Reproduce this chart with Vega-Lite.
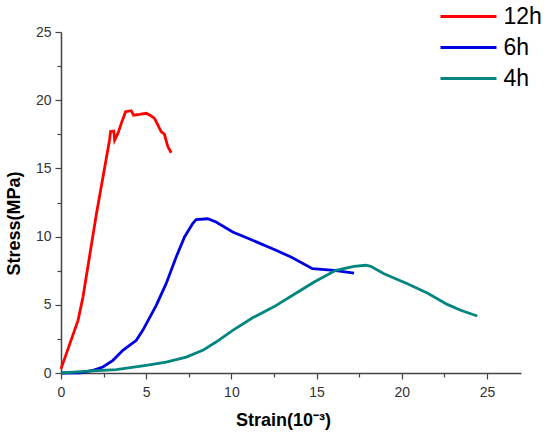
{
  "$schema": "https://vega.github.io/schema/vega-lite/v6.json",
  "width": 460,
  "height": 341,
  "autosize": "none",
  "padding": {"left": 61, "top": 32, "right": 29, "bottom": 61},
  "background": "white",
  "config": {
    "view": {"stroke": null},
    "axis": {
      "grid": false,
      "labelFlush": false,
      "domainColor": "#444",
      "domainWidth": 1.5,
      "tickColor": "#444",
      "tickWidth": 1.2,
      "labelFont": "Liberation Sans",
      "labelFontSize": 14,
      "labelColor": "#333",
      "titleFont": "Liberation Sans",
      "titleFontSize": 18,
      "titleFontWeight": "bold",
      "titleColor": "#000"
    },
    "legend": {
      "labelFont": "Liberation Sans",
      "labelFontSize": 23,
      "labelColor": "#000"
    }
  },
  "data": {
    "values": [
      {"series": "12h", "strain": 0, "stress": 0.3},
      {"series": "12h", "strain": 1.0, "stress": 3.86},
      {"series": "12h", "strain": 1.29, "stress": 5.57},
      {"series": "12h", "strain": 2.07, "stress": 11.6},
      {"series": "12h", "strain": 2.85, "stress": 17.08},
      {"series": "12h", "strain": 2.91, "stress": 17.7},
      {"series": "12h", "strain": 3.1, "stress": 17.74},
      {"series": "12h", "strain": 3.15, "stress": 17.08},
      {"series": "12h", "strain": 3.34, "stress": 17.57},
      {"series": "12h", "strain": 3.54, "stress": 18.3},
      {"series": "12h", "strain": 3.79, "stress": 19.16},
      {"series": "12h", "strain": 4.12, "stress": 19.23},
      {"series": "12h", "strain": 4.26, "stress": 18.9},
      {"series": "12h", "strain": 4.61, "stress": 18.96},
      {"series": "12h", "strain": 5.0, "stress": 19.04},
      {"series": "12h", "strain": 5.3, "stress": 18.84},
      {"series": "12h", "strain": 5.49, "stress": 18.67},
      {"series": "12h", "strain": 5.88, "stress": 17.7},
      {"series": "12h", "strain": 6.07, "stress": 17.5},
      {"series": "12h", "strain": 6.27, "stress": 16.6},
      {"series": "12h", "strain": 6.47, "stress": 16.15},
      {"series": "6h", "strain": 0, "stress": 0},
      {"series": "6h", "strain": 1.1, "stress": 0.02},
      {"series": "6h", "strain": 1.88, "stress": 0.2},
      {"series": "6h", "strain": 2.46, "stress": 0.44},
      {"series": "6h", "strain": 3.05, "stress": 0.93},
      {"series": "6h", "strain": 3.63, "stress": 1.66},
      {"series": "6h", "strain": 4.42, "stress": 2.4},
      {"series": "6h", "strain": 4.8, "stress": 3.13},
      {"series": "6h", "strain": 5.59, "stress": 4.96},
      {"series": "6h", "strain": 6.17, "stress": 6.55},
      {"series": "6h", "strain": 6.76, "stress": 8.5},
      {"series": "6h", "strain": 7.25, "stress": 9.97},
      {"series": "6h", "strain": 7.73, "stress": 10.95},
      {"series": "6h", "strain": 7.93, "stress": 11.24},
      {"series": "6h", "strain": 8.61, "stress": 11.31},
      {"series": "6h", "strain": 9.1, "stress": 11.07},
      {"series": "6h", "strain": 10.08, "stress": 10.34},
      {"series": "6h", "strain": 11.25, "stress": 9.73},
      {"series": "6h", "strain": 12.52, "stress": 9.05},
      {"series": "6h", "strain": 13.5, "stress": 8.5},
      {"series": "6h", "strain": 14.76, "stress": 7.65},
      {"series": "6h", "strain": 16.03, "stress": 7.53},
      {"series": "6h", "strain": 17.2, "stress": 7.33},
      {"series": "4h", "strain": 0, "stress": 0},
      {"series": "4h", "strain": 1.88, "stress": 0.15},
      {"series": "4h", "strain": 3.24, "stress": 0.24},
      {"series": "4h", "strain": 5.0, "stress": 0.56},
      {"series": "4h", "strain": 6.17, "stress": 0.8},
      {"series": "4h", "strain": 7.35, "stress": 1.17},
      {"series": "4h", "strain": 8.32, "stress": 1.66},
      {"series": "4h", "strain": 9.1, "stress": 2.27},
      {"series": "4h", "strain": 10.08, "stress": 3.13},
      {"series": "4h", "strain": 11.25, "stress": 4.05},
      {"series": "4h", "strain": 12.52, "stress": 4.87},
      {"series": "4h", "strain": 13.69, "stress": 5.77},
      {"series": "4h", "strain": 14.86, "stress": 6.67},
      {"series": "4h", "strain": 16.13, "stress": 7.53},
      {"series": "4h", "strain": 17.2, "stress": 7.82},
      {"series": "4h", "strain": 17.89, "stress": 7.9},
      {"series": "4h", "strain": 18.18, "stress": 7.82},
      {"series": "4h", "strain": 18.96, "stress": 7.28},
      {"series": "4h", "strain": 20.33, "stress": 6.55},
      {"series": "4h", "strain": 21.5, "stress": 5.87},
      {"series": "4h", "strain": 22.67, "stress": 5.03},
      {"series": "4h", "strain": 23.46, "stress": 4.6},
      {"series": "4h", "strain": 24.43, "stress": 4.18}
    ]
  },
  "layer": [
    {
      "mark": {"type": "line", "opacity": 0},
      "encoding": {
        "x": {
          "field": "strain",
          "type": "quantitative",
          "scale": {"domain": [0, 27], "nice": false},
          "axis": {"orient": "bottom", "values": [2.5, 7.5, 12.5, 17.5, 22.5], "labels": false, "domain": false, "tickSize": 4, "title": null}
        },
        "y": {
          "field": "stress",
          "type": "quantitative",
          "scale": {"domain": [0, 25], "nice": false},
          "axis": {"orient": "left", "values": [2.5, 7.5, 12.5, 17.5, 22.5], "labels": false, "domain": false, "tickSize": 4, "title": null}
        },
        "detail": {"field": "series"}
      }
    },
    {
      "mark": {"type": "line", "strokeWidth": 2.8},
      "encoding": {
        "x": {
          "field": "strain",
          "type": "quantitative",
          "scale": {"domain": [0, 27], "nice": false},
          "axis": {
            "orient": "bottom",
            "values": [0, 5, 10, 15, 20, 25],
            "tickSize": 6,
            "labelPadding": 6,
            "title": "Strain(10⁻³)",
            "titleX": 222,
            "titleY": 52,
            "titleBaseline": "alphabetic"
          }
        },
        "y": {
          "field": "stress",
          "type": "quantitative",
          "scale": {"domain": [0, 25], "nice": false},
          "axis": {
            "orient": "left",
            "values": [0, 5, 10, 15, 20, 25],
            "tickSize": 6,
            "labelPadding": 4,
            "title": "Stress(MPa)",
            "titleX": -47,
            "titleY": 191,
            "titleAlign": "center",
            "titleBaseline": "middle",
            "titleAngle": -90
          }
        },
        "color": {
          "field": "series",
          "type": "nominal",
          "scale": {"domain": ["12h", "6h", "4h"], "range": ["#ff0000", "#0000e0", "#00857f"]},
          "legend": {
            "title": null,
            "orient": "none",
            "legendX": 396,
            "legendY": -27,
            "padding": 0,
            "symbolType": "M-5.6,0H5.6",
            "symbolSize": 100,
            "symbolStrokeWidth": 3,
            "labelOffset": 23.5,
            "rowPadding": 7
          }
        }
      }
    }
  ],
  "resolve": {"axis": {"x": "independent", "y": "independent"}}
}
